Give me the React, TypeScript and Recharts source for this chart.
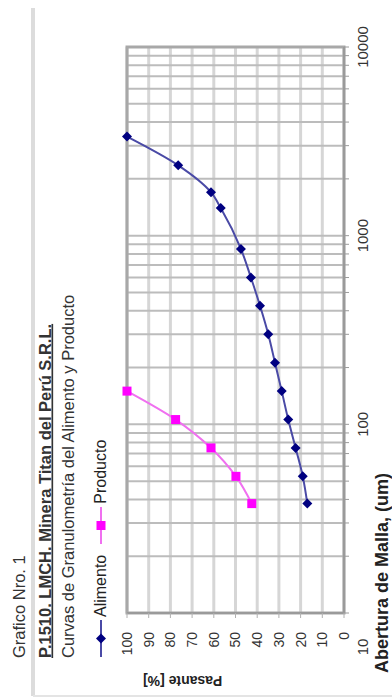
import React from "react";
import {
  CartesianGrid,
  Legend,
  Line,
  LineChart,
  ReferenceArea,
  XAxis,
  YAxis,
} from "recharts";

// abertura de malla (um) y % pasante acumulado de cada muestra
const aberturaAlimento = [38, 53, 75, 106, 150, 212, 300, 425, 600, 850, 1400, 1700, 2360, 3350];
const pasanteAlimento = [16.9, 19.0, 22.3, 25.7, 28.7, 31.8, 34.9, 38.7, 42.9, 47.5, 56.8, 61.3, 76.4, 100];
const aberturaProducto = [38, 53, 75, 106, 150];
const pasanteProducto = [42.5, 49.8, 61.3, 77.6, 100];

// eje logaritmico: lineas en cada 1..9 de la decada, rotulo solo en las decadas
const mallaTicks = [
  10, 20, 30, 40, 50, 60, 70, 80, 90,
  100, 200, 300, 400, 500, 600, 700, 800, 900,
  1000, 2000, 3000, 4000, 5000, 6000, 7000, 8000, 9000,
  10000,
];
const mallaLabels = [10, 100, 1000, 10000];
const pasanteTicks = [0, 10, 20, 30, 40, 50, 60, 70, 80, 90, 100];

const FONT = '"Liberation Sans", Arial, sans-serif';
const W = 697;
const H = 392;
const AZUL = "#000080";
const MAGENTA = "#ff00ff";

const alimento = aberturaAlimento.map((abertura, i) => ({ abertura, pasante: pasanteAlimento[i] }));
const producto = aberturaProducto.map((abertura, i) => ({ abertura, pasante: pasanteProducto[i] }));

function MallaTick({ x, y, payload }: any) {
  if (!mallaLabels.includes(payload.value)) return <g />;
  // el rotulo "10" va corrido fuera de la esquina del grafico
  const dx = payload.value === mallaLabels[0] ? -34 : 0;
  return (
    <text x={x + dx} y={y} dy="0.71em" textAnchor="middle" fontSize={15} fill="#333" fontFamily={FONT}>
      {payload.value}
    </text>
  );
}

function Rombo({ cx, cy, index }: any) {
  if (cx == null || cy == null) return <g key={index} />;
  const r = 5;
  return (
    <polygon
      key={index}
      points={`${cx},${cy - r} ${cx + r},${cy} ${cx},${cy + r} ${cx - r},${cy}`}
      fill={AZUL}
    />
  );
}

function Cuadrado({ cx, cy, index }: any) {
  if (cx == null || cy == null) return <g key={index} />;
  return <rect key={index} x={cx - 4.5} y={cy - 4.5} width={9} height={9} fill={MAGENTA} />;
}

function Leyenda({ payload }: any) {
  return (
    <div style={{ display: "flex", alignItems: "center", fontFamily: FONT, fontSize: 16, color: "#222" }}>
      {(payload ?? []).map((item: any) => (
        <div key={item.value} style={{ display: "flex", alignItems: "center", marginRight: 11 }}>
          <svg width={37} height={14}>
            <line x1={0} x2={37} y1={7} y2={7} stroke={item.color} strokeWidth={2} />
            {item.value === "Alimento" ? (
              <polygon points="18.5,2 23.5,7 18.5,12 13.5,7" fill={AZUL} />
            ) : (
              <rect x={14} y={2.5} width={9} height={9} fill={MAGENTA} />
            )}
          </svg>
          <span style={{ marginLeft: 3, whiteSpace: "nowrap" }}>{item.value}</span>
        </div>
      ))}
    </div>
  );
}

function Granulometria() {
  return (
    <div style={{ position: "relative", width: W, height: H, background: "#fff" }}>
      <LineChart width={W} height={H} margin={{ top: 127, right: 47, bottom: 0, left: 0 }}>
        <CartesianGrid vertical={false} stroke="#d6d6d6" strokeWidth={3} />
        <CartesianGrid horizontal={false} stroke="#bcbcbc" strokeWidth={2} />
        <XAxis
          dataKey="abertura"
          type="number"
          scale="log"
          domain={[10, 10000]}
          ticks={mallaTicks}
          interval={0}
          allowDataOverflow
          height={48}
          tickSize={5}
          tickMargin={8}
          tick={<MallaTick />}
          axisLine={{ stroke: "#9a9a9a", strokeWidth: 2 }}
          tickLine={{ stroke: "#9a9a9a" }}
        />
        <YAxis
          type="number"
          domain={[0, 100]}
          ticks={pasanteTicks}
          interval={0}
          width={84}
          tickSize={5}
          tickMargin={14}
          tick={{ fontSize: 14, fill: "#333", fontFamily: FONT }}
          axisLine={{ stroke: "#9a9a9a", strokeWidth: 2 }}
          tickLine={{ stroke: "#b0b0b0" }}
        />
        <ReferenceArea
          x1={10}
          x2={10000}
          y1={0}
          y2={100}
          fill="#fff"
          fillOpacity={0}
          stroke="#a8a8a8"
          strokeWidth={3}
        />
        <Legend
          layout="horizontal"
          align="center"
          verticalAlign="middle"
          content={<Leyenda />}
          wrapperStyle={{ left: 40, top: 92, width: "auto" }}
        />
        <Line
          name="Alimento"
          data={alimento}
          dataKey="pasante"
          type="monotone"
          stroke="#4a4aa6"
          strokeWidth={2}
          dot={(p: any) => <Rombo {...p} key={p.index} />}
          isAnimationActive={false}
        />
        <Line
          name="Producto"
          data={producto}
          dataKey="pasante"
          type="monotone"
          stroke="#f070f0"
          strokeWidth={2}
          dot={(p: any) => <Cuadrado {...p} key={p.index} />}
          isAnimationActive={false}
        />
      </LineChart>
      <svg
        width={W}
        height={H}
        style={{ position: "absolute", left: 0, top: 0, pointerEvents: "none" }}
        fontFamily={FONT}
      >
        <line x1={1} x2={689} y1={33} y2={33} stroke="#dcdcdc" strokeWidth={4} />
        <line x1={1} x2={1} y1={33} y2={H} stroke="#e4e4e4" strokeWidth={2} />
        <text x={39} y={25} fontSize={16.5} fill="#333">
          Grafico Nro. 1
        </text>
        <text x={39} y={50.5} fontSize={16.5} fontWeight="bold" fill="#333" textDecoration="underline">
          P.1510. LMCH. Minera Titan del Perú S.R.L.
        </text>
        <text x={39} y={74} fontSize={16.5} fill="#333">
          Curvas de Granulometría del Alimento y Producto
        </text>
        <text x={224} y={387.5} textAnchor="end" fontSize={18} fontWeight="bold" fill="#222">
          Abertura de Malla, (um)
        </text>
        <text
          x={21}
          y={143}
          textAnchor="end"
          fontSize={14}
          fontWeight="bold"
          fill="#222"
          transform="rotate(-90 21 143)"
        >
          Pasante [%]
        </text>
      </svg>
    </div>
  );
}

export default function App() {
  return (
    <div
      style={{
        position: "fixed",
        left: 0,
        top: 0,
        width: H,
        height: W,
        overflow: "hidden",
        background: "#fff",
      }}
    >
      {/* hoja apaisada girada 90 grados */}
      <div
        style={{
          position: "absolute",
          left: 0,
          top: 0,
          width: W,
          height: H,
          transformOrigin: "0 0",
          transform: `translateY(${W}px) rotate(-90deg)`,
        }}
      >
        <Granulometria />
      </div>
    </div>
  );
}
